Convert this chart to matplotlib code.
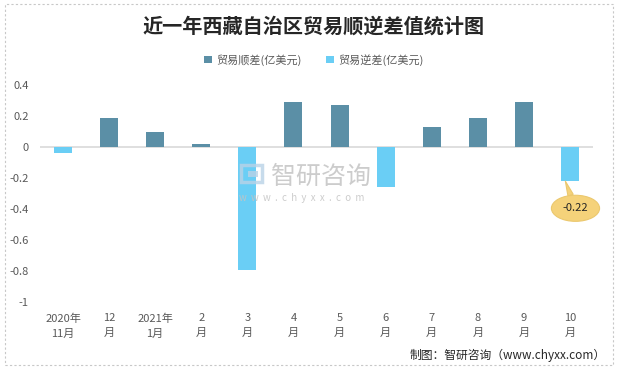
import numpy as np
import matplotlib
matplotlib.use('Agg')
from matplotlib import pyplot as plt
from matplotlib.patches import Rectangle

plt.rcParams['font.family'] = ['Noto Sans CJK SC', 'DejaVu Sans']

# === Data ===
months = ['2020年\n11月', '12\n月', '2021年\n1月', '2\n月', '3\n月', '4\n月',
          '5\n月', '6\n月', '7\n月', '8\n月', '9\n月', '10\n月']
surplus = [None, 0.19, 0.10, 0.02, None, 0.29, 0.27, None, 0.13, 0.19, 0.29, None]
deficit = [-0.04, None, None, None, -0.79, None, None, -0.26, None, None, None, -0.22]
yticks = [0.4, 0.2, 0, -0.2, -0.4, -0.6, -0.8, -1]
ytick_labels = ['0.4', '0.2', '0', '-0.2', '-0.4', '-0.6', '-0.8', '-1']

c_surplus = '#5B8FA6'
c_deficit = '#6ACEF5'
txt = '#595959'

fig = plt.figure(figsize=[6.19, 3.68], dpi=100)
ax = fig.add_axes([0.0646, 0.179, 0.8934, 0.590])

x = np.arange(len(months))
xs = [i for i, v in enumerate(surplus) if v is not None]
xd = [i for i, v in enumerate(deficit) if v is not None]
ax.bar(xs, [surplus[i] for i in xs], width=0.39, color=c_surplus,
       label='贸易顺差(亿美元)', zorder=3)
ax.bar(xd, [deficit[i] for i in xd], width=0.39, color=c_deficit,
       label='贸易逆差(亿美元)', zorder=3)

ax.axhline(0, color='#D9D9D9', lw=1.2, zorder=2)
ax.set_xlim(-0.5, len(months) - 0.5)
ax.set_ylim(-1, 0.4)
ax.set_yticks(yticks)
ax.set_yticklabels(ytick_labels)
ax.set_xticks(x)
ax.set_xticklabels(months, linespacing=1.6)
ax.tick_params(length=0, labelsize=8, colors=txt)
ax.tick_params(axis='x', pad=8)
ax.tick_params(axis='y', pad=8)
for s in ax.spines.values():
    s.set_visible(False)

# callout for last value
last = xd[-1]
ax.annotate('%.2f' % deficit[last], xy=(last - 0.1, deficit[last]),
            xytext=(last + 0.12, deficit[last] - 0.175),
            ha='center', va='center', fontsize=8, color='#262626',
            bbox=dict(boxstyle='ellipse,pad=0.38', fc='#F5D27A', ec='#EBC86E', lw=0.8),
            arrowprops=dict(arrowstyle='wedge,tail_width=0.5', fc='#F5D27A',
                            ec='#EBC86E', lw=0.8, shrinkA=0, shrinkB=0),
            zorder=5)

# watermark
wm = '#C4C4C4'
fig.patches.append(Rectangle((0.389, 0.505), 0.034, 0.046, transform=fig.transFigure,
                             fill=False, ec='#B9D3E6', lw=2.5, alpha=0.8, zorder=1))
fig.patches.append(Rectangle((0.400, 0.518), 0.016, 0.018, transform=fig.transFigure,
                             fc='#B9D3E6', ec='none', alpha=0.8, zorder=1))
fig.text(0.437, 0.518, '智研咨询', fontsize=18, color=wm, alpha=0.85,
         ha='left', va='center', zorder=1)
fig.text(0.386, 0.463, 'w  w  w  .  c  h  y  x  x  .  c  o  m', fontsize=7, color=wm,
         alpha=0.85, ha='left', va='center', zorder=1)

# title, legend, caption
fig.text(0.507, 0.93, '近一年西藏自治区贸易顺逆差值统计图', fontsize=14.5, fontweight='bold',
         color='#262626', ha='center', va='center')
fig.legend(loc='center', bbox_to_anchor=(0.507, 0.838), ncol=2, frameon=False,
           fontsize=8, handlelength=0.7, handleheight=0.7, columnspacing=2.2,
           handletextpad=0.4, labelcolor=txt)
fig.text(0.978, 0.035, '制图：智研咨询（www.chyxx.com）', fontsize=8.5,
         color='#262626', ha='right', va='center')

fig.patches.append(Rectangle((0.008, 0.008), 0.982, 0.982, transform=fig.transFigure,
                             fill=False, ec='#C8C8C8', lw=0.8, ls=(0, (2, 2))))

plt.savefig('out.png', dpi=100)
